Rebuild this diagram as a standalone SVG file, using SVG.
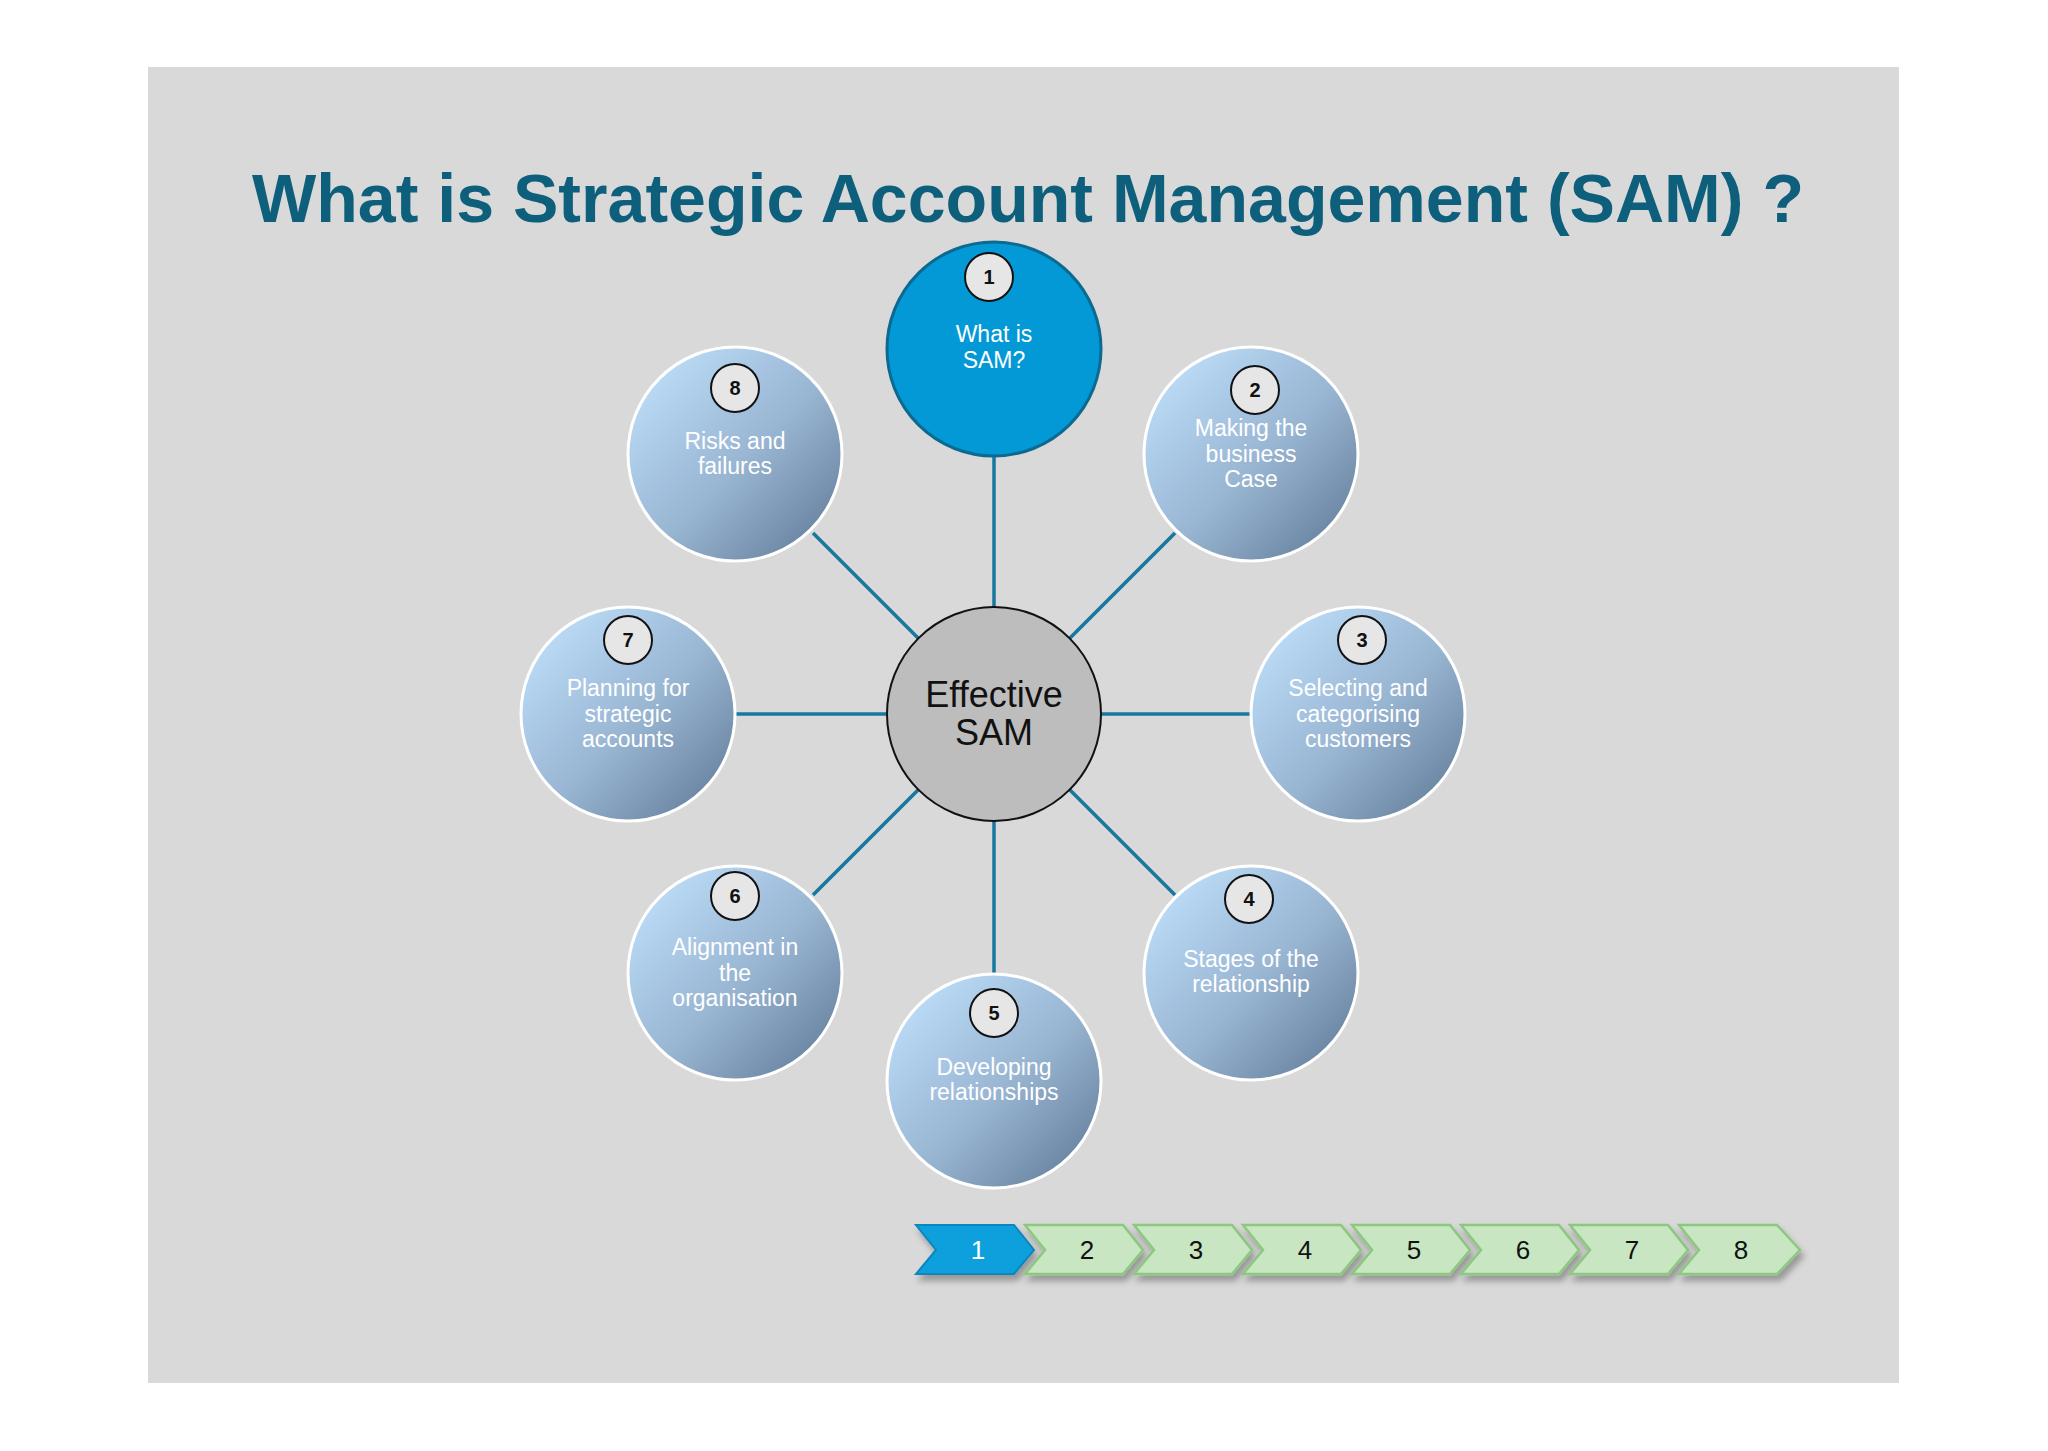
<svg xmlns="http://www.w3.org/2000/svg" width="2048" height="1451" viewBox="0 0 2048 1451">
<defs>
<linearGradient id="g" x1="0.15" y1="0.15" x2="0.85" y2="0.85"><stop offset="0" stop-color="#b8d8f4"/><stop offset="0.55" stop-color="#98b5d2"/><stop offset="1" stop-color="#6f8aa6"/></linearGradient>
<filter id="sh" x="-20%" y="-20%" width="140%" height="160%"><feDropShadow dx="3" dy="6" stdDeviation="3" flood-color="#000" flood-opacity="0.3"/></filter>
</defs>
<style>
.sat{fill:url(#g);stroke:#fff;stroke-width:3}
.b{fill:#e6e6e6;stroke:#111;stroke-width:2}
.bt{font-family:"Liberation Sans",Arial,sans-serif;font-size:20px;font-weight:bold;fill:#111;text-anchor:middle}
.t{font-family:"Liberation Sans",Arial,sans-serif;font-size:23px;fill:#fff;text-anchor:middle}
.c{stroke:#1677a0;stroke-width:3.5;fill:none}
.ch{fill:#c8e6c2;stroke:#8cc87f;stroke-width:2.5;filter:url(#sh)}
.ct{font-family:"Liberation Sans",Arial,sans-serif;font-size:26px;fill:#111;text-anchor:middle}
</style>
<rect width="2048" height="1451" fill="#fff"/>
<rect x="148" y="67" width="1751" height="1316" fill="#d9d9d9"/>
<text x="1028" y="222" font-family="Liberation Sans,Arial,sans-serif" font-size="68" font-weight="bold" fill="#0d5f7b" text-anchor="middle" textLength="1552" lengthAdjust="spacingAndGlyphs">What is Strategic Account Management (SAM) ?</text>
<g id="connectors">
<line class="c" x1="994" y1="607" x2="994" y2="456"/>
<line class="c" x1="994" y1="821" x2="994" y2="974"/>
<line class="c" x1="887" y1="714" x2="735" y2="714"/>
<line class="c" x1="1101" y1="714" x2="1251" y2="714"/>
<line class="c" x1="1070" y1="638" x2="1175" y2="533"/>
<line class="c" x1="918" y1="638" x2="813" y2="533"/>
<line class="c" x1="1070" y1="790" x2="1175" y2="895"/>
<line class="c" x1="918" y1="790" x2="813" y2="895"/>
</g>
<g id="center"><circle cx="994" cy="714" r="107" fill="#bdbdbd" stroke="#111" stroke-width="2"/>
<text x="994" y="707" font-family="Liberation Sans,Arial,sans-serif" font-size="36" fill="#111" text-anchor="middle">Effective</text>
<text x="994" y="745" font-family="Liberation Sans,Arial,sans-serif" font-size="36" fill="#111" text-anchor="middle">SAM</text></g>
<g id="n1"><circle cx="994" cy="349" r="107" fill="#0399d6" stroke="#0c6a90" stroke-width="3"/><circle class="b" cx="989" cy="277" r="24"/><text class="bt" x="989" y="284">1</text><text class="t" x="994" y="342">What is</text><text class="t" x="994" y="368">SAM?</text></g>
<g id="n2"><circle class="sat" cx="1251" cy="454" r="107"/><circle class="b" cx="1255" cy="390" r="24"/><text class="bt" x="1255" y="397">2</text><text class="t" x="1251" y="436">Making the</text><text class="t" x="1251" y="462">business</text><text class="t" x="1251" y="487">Case</text></g>
<g id="n3"><circle class="sat" cx="1358" cy="714" r="107"/><circle class="b" cx="1362" cy="640" r="24"/><text class="bt" x="1362" y="647">3</text><text class="t" x="1358" y="696">Selecting and</text><text class="t" x="1358" y="722">categorising</text><text class="t" x="1358" y="747">customers</text></g>
<g id="n4"><circle class="sat" cx="1251" cy="973" r="107"/><circle class="b" cx="1249" cy="899" r="24"/><text class="bt" x="1249" y="906">4</text><text class="t" x="1251" y="967">Stages of the</text><text class="t" x="1251" y="992">relationship</text></g>
<g id="n5"><circle class="sat" cx="994" cy="1081" r="107"/><circle class="b" cx="994" cy="1013" r="24"/><text class="bt" x="994" y="1020">5</text><text class="t" x="994" y="1075">Developing</text><text class="t" x="994" y="1100">relationships</text></g>
<g id="n6"><circle class="sat" cx="735" cy="973" r="107"/><circle class="b" cx="735" cy="896" r="24"/><text class="bt" x="735" y="903">6</text><text class="t" x="735" y="955">Alignment in</text><text class="t" x="735" y="981">the</text><text class="t" x="735" y="1006">organisation</text></g>
<g id="n7"><circle class="sat" cx="628" cy="714" r="107"/><circle class="b" cx="628" cy="640" r="24"/><text class="bt" x="628" y="647">7</text><text class="t" x="628" y="696">Planning for</text><text class="t" x="628" y="722">strategic</text><text class="t" x="628" y="747">accounts</text></g>
<g id="n8"><circle class="sat" cx="735" cy="454" r="107"/><circle class="b" cx="735" cy="388" r="24"/><text class="bt" x="735" y="395">8</text><text class="t" x="735" y="449">Risks and</text><text class="t" x="735" y="474">failures</text></g>
<g id="progress">
<path d="M916 1225 H1014 L1034 1250 L1014 1274 H916 L936 1250 Z" fill="#0aa0dc" stroke="#0a86bb" stroke-width="2" filter="url(#sh)"/>
<text x="978" y="1259" font-family="Liberation Sans,Arial,sans-serif" font-size="26" fill="#fff" text-anchor="middle">1</text>
<path class="ch" d="M1025 1225 H1123 L1143 1250 L1123 1274 H1025 L1045 1250 Z"/><text class="ct" x="1087" y="1259">2</text>
<path class="ch" d="M1134 1225 H1232 L1252 1250 L1232 1274 H1134 L1154 1250 Z"/><text class="ct" x="1196" y="1259">3</text>
<path class="ch" d="M1243 1225 H1341 L1361 1250 L1341 1274 H1243 L1263 1250 Z"/><text class="ct" x="1305" y="1259">4</text>
<path class="ch" d="M1352 1225 H1450 L1470 1250 L1450 1274 H1352 L1372 1250 Z"/><text class="ct" x="1414" y="1259">5</text>
<path class="ch" d="M1461 1225 H1559 L1579 1250 L1559 1274 H1461 L1481 1250 Z"/><text class="ct" x="1523" y="1259">6</text>
<path class="ch" d="M1570 1225 H1668 L1688 1250 L1668 1274 H1570 L1590 1250 Z"/><text class="ct" x="1632" y="1259">7</text>
<path class="ch" d="M1679 1225 H1777 L1800 1250 L1777 1274 H1679 L1699 1250 Z"/><text class="ct" x="1741" y="1259">8</text>
</g>
</svg>
